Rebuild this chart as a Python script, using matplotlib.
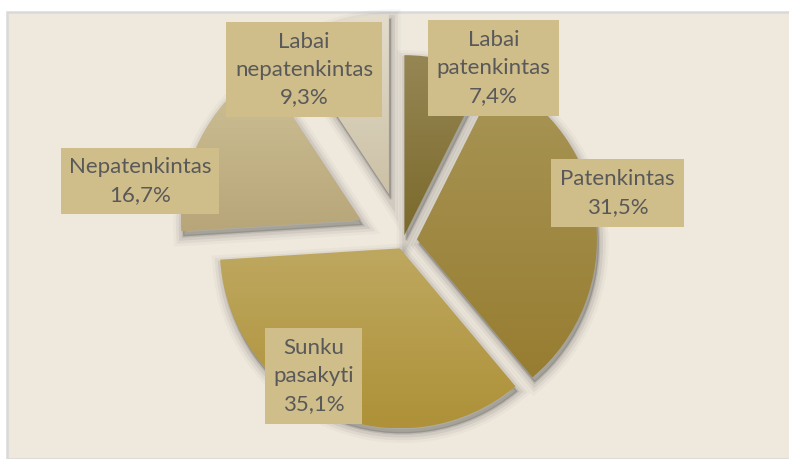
import matplotlib.pyplot as plt
import matplotlib.patches as mpatches
import matplotlib.colors as mcolors
from matplotlib.transforms import Affine2D
import numpy as np

# data
labels = ["Labai\npatenkintas", "Patenkintas", "Sunku\npasakyti", "Nepatenkintas", "Labai\nnepatenkintas"]
values = [7.4, 31.5, 35.1, 16.7, 9.3]
pct_text = ["7,4%", "31,5%", "35,1%", "16,7%", "9,3%"]

# style (explode is in pixels here, pie uses data units)
explode = [6, 14, 8, 47, 49]
grad_top = ["#968654", "#A89556", "#BEA860", "#CEC197", "#E4DDCC"]
grad_bot = ["#7B6A2B", "#977D31", "#AE9138", "#B8A679", "#CCC1A6"]
# label boxes (x0, y0, x1, y1) in pixels from top-left
boxes = [(428, 20, 559, 116), (551, 159, 684, 227), (265, 328, 362, 424),
         (61, 148, 219, 214), (226, 22, 382, 117)]

W, H = 789, 459
fig = plt.figure(figsize=(W / 100, H / 100), dpi=100, facecolor="white")
ax = fig.add_axes([0, 0, 1, 1])
ax.set_xlim(0, W)
ax.set_ylim(0, H)
ax.axis("off")

# plot area background
ax.add_patch(mpatches.Rectangle((7, 0), W, H - 12, facecolor="#EFE9DD",
                                edgecolor="#D9D9D9", linewidth=1.8, zorder=0))

center = (403, H - 241)
radius = 180

wedges, _ = ax.pie(values, explode=explode, startangle=90, counterclock=False,
                   center=center, radius=radius, frame=True,
                   wedgeprops=dict(linewidth=0, zorder=3))

# soft shadows
shift = Affine2D().translate(2, -5)
for w in wedges:
    path = w.get_path()
    for lw, a in [(14, 0.04), (10, 0.06), (6, 0.09), (2, 0.14)]:
        sh = mpatches.PathPatch(path, facecolor="#444444", edgecolor="#444444",
                                linewidth=lw, alpha=a, zorder=2,
                                transform=ax.transData + shift)
        ax.add_patch(sh)

# vertical gradient fills clipped to each wedge
for i, w in enumerate(wedges):
    ext = w.get_path().get_extents()
    cmap = mcolors.LinearSegmentedColormap.from_list("g", [grad_bot[i], grad_top[i]])
    grad = np.linspace(0, 1, 256).reshape(-1, 1)
    im = ax.imshow(grad, cmap=cmap, origin="lower", aspect="auto",
                   extent=[ext.x0, ext.x1, ext.y0, ext.y1], zorder=4,
                   interpolation="bicubic")
    im.set_clip_path(w)
    w.set_facecolor("none")

ax.set_xlim(0, W)
ax.set_ylim(0, H)
ax.set_aspect("auto")

# label boxes
for (x0, y0, x1, y1), lab, pct in zip(boxes, labels, pct_text):
    ax.add_patch(mpatches.Rectangle((x0, H - y1), x1 - x0, y1 - y0,
                                    facecolor="#CFBD8A", edgecolor="none", zorder=6))
    ax.text((x0 + x1) / 2, H - (y0 + y1) / 2, lab + "\n" + pct,
            ha="center", va="center", multialignment="center",
            fontsize=16, family="Lato", color="#595959",
            linespacing=1.5, zorder=7)

fig.savefig("out.png", dpi=100, facecolor="white")
